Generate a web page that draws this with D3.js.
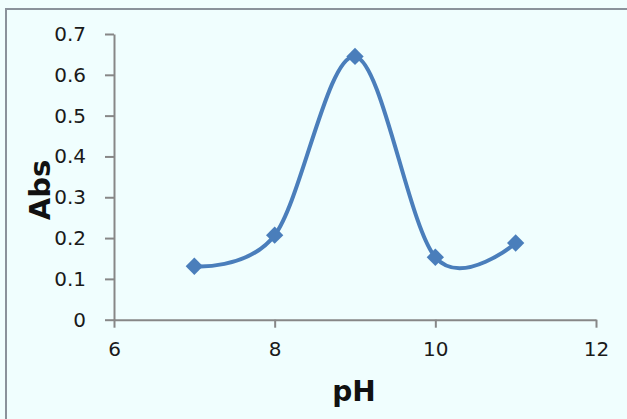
<!DOCTYPE html>
<html>
<head>
<meta charset="utf-8">
<script src="https://cdn.jsdelivr.net/npm/d3@7"></script>
<style>
  html, body { margin: 0; padding: 0; background: #f0fefe; }
  svg { display: block; }
</style>
</head>
<body>
<svg id="chart" width="627" height="419"></svg>
<script>
const phValues = [7, 8, 9, 10, 11];
const absValues = [0.131, 0.207, 0.645, 0.153, 0.188];
const xTicks = [6, 8, 10, 12];
const yTicks = [0, 0.1, 0.2, 0.3, 0.4, 0.5, 0.6, 0.7];
const xTitle = "pH";
const yTitle = "Abs";

const svg = d3.select("#chart");
const W = 627, H = 419;

svg.append("rect").attr("x", 0).attr("y", 0).attr("width", W).attr("height", H).attr("fill", "#f0fefe");
// outer frame (left & top visible)
svg.append("path")
  .attr("d", `M6,${H} L6,9 L${W},9`)
  .attr("fill", "none").attr("stroke", "#8a929b").attr("stroke-width", 2);

const x = d3.scaleLinear().domain([6, 12]).range([114, 596]);
const y = d3.scaleLinear().domain([0, 0.7]).range([319.7, 34]);

const axisColor = "#878787";
const tickFont = "DejaVu Sans, Verdana, sans-serif";

const yAxis = svg.append("g").attr("transform", `translate(${x(6)},0)`)
  .call(d3.axisLeft(y).tickValues(yTicks).tickSize(9).tickSizeOuter(0).tickPadding(19)
    .tickFormat(d => d === 0 ? "0" : d3.format(".1f")(d)));
const xAxis = svg.append("g").attr("transform", `translate(0,${y(0)})`)
  .call(d3.axisBottom(x).tickValues(xTicks).tickSize(8).tickSizeOuter(0).tickPadding(14)
    .tickFormat(d3.format("d")));

[yAxis, xAxis].forEach(g => {
  g.select(".domain").attr("stroke", axisColor).attr("stroke-width", 2);
  g.selectAll(".tick line").attr("stroke", axisColor).attr("stroke-width", 2);
  g.selectAll(".tick text").attr("fill", "#1a1a1a").attr("font-size", 20).attr("font-family", tickFont);
});

// line
const line = d3.line().x((d, i) => x(phValues[i])).y(d => y(d)).curve(d3.curveCardinal.tension(0));
svg.append("path").datum(absValues)
  .attr("d", line)
  .attr("fill", "none").attr("stroke", "#4a7ebb").attr("stroke-width", 4)
  .attr("stroke-linejoin", "round");

// markers
const sym = d3.symbol().type(d3.symbolSquare).size(150);
svg.append("g").selectAll("path").data(absValues).join("path")
  .attr("d", sym)
  .attr("transform", (d, i) => `translate(${x(phValues[i])},${y(d)}) rotate(45)`)
  .attr("fill", "#4a7ebb");

// titles
svg.append("text").text(xTitle)
  .attr("x", 354).attr("y", 401).attr("text-anchor", "middle")
  .attr("font-family", tickFont).attr("font-weight", "bold").attr("font-size", 28).attr("fill", "#111");
svg.append("text").text(yTitle)
  .attr("transform", "translate(50,190) rotate(-90)").attr("text-anchor", "middle")
  .attr("font-family", tickFont).attr("font-weight", "bold").attr("font-size", 29).attr("fill", "#111");
</script>
</body>
</html>
